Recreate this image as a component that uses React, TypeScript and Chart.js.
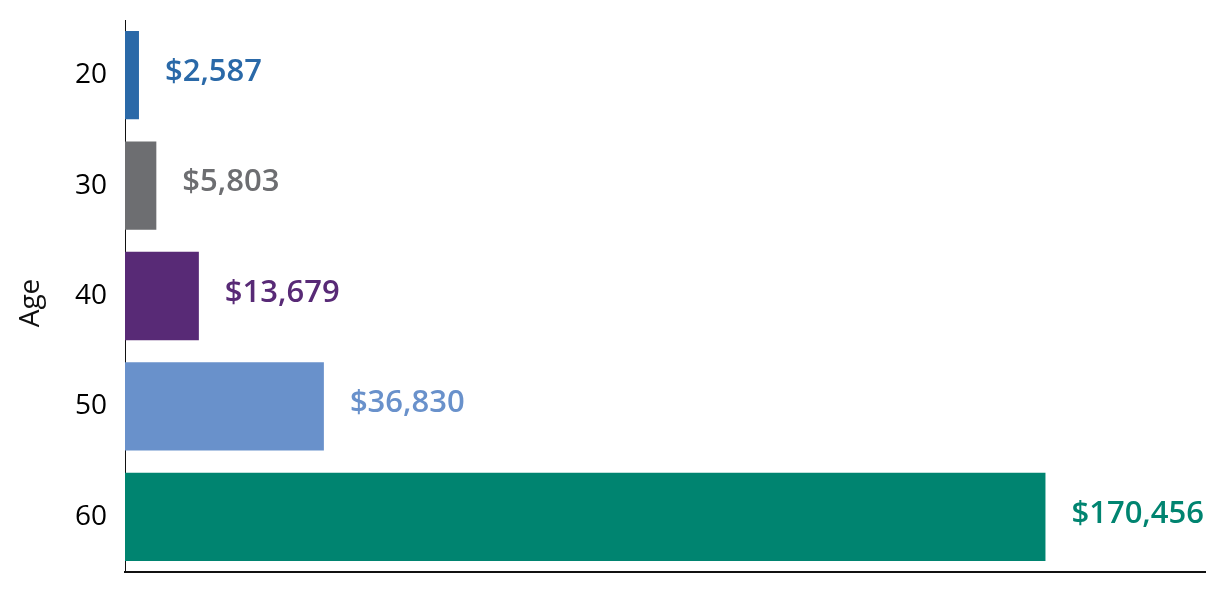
import { useEffect, useRef } from "react";
import Chart from "chart.js/auto";

const ages = ["20", "30", "40", "50", "60"];
const savings = [2587, 5803, 13679, 36830, 170456];
const barColors = ["#2a69a8", "#6d6e71", "#582a76", "#6991cb", "#008470"];
const axisTitle = "Age";

const FONT = "'Open Sans', sans-serif";

const valueLabels = {
  id: "valueLabels",
  afterDatasetsDraw(chart: Chart) {
    const { ctx } = chart;
    const meta = chart.getDatasetMeta(0);
    ctx.save();
    ctx.font = `600 31px ${FONT}`;
    ctx.textAlign = "left";
    ctx.textBaseline = "middle";
    meta.data.forEach((bar: any, i: number) => {
      ctx.fillStyle = barColors[i];
      ctx.fillText("$" + savings[i].toLocaleString("en-US"), bar.x + 26, bar.y - 3);
    });
    ctx.restore();
  },
};

// y-axis title, drawn by hand so it sits where the original has it
const ageTitle = {
  id: "ageTitle",
  afterDraw(chart: Chart) {
    const { ctx, chartArea } = chart;
    ctx.save();
    ctx.translate(31, (chartArea.top + chartArea.bottom) / 2 + 7);
    ctx.rotate(-Math.PI / 2);
    ctx.font = `28px ${FONT}`;
    ctx.fillStyle = "#111";
    ctx.textAlign = "center";
    ctx.textBaseline = "middle";
    ctx.fillText(axisTitle, 0, 0);
    ctx.restore();
  },
};

const App = () => {
  const chartRef = useRef<HTMLCanvasElement>(null);
  const chartInstance = useRef<Chart | null>(null);

  useEffect(() => {
    if (!chartRef.current) return;
    if (chartInstance.current) chartInstance.current.destroy();

    chartInstance.current = new Chart(chartRef.current, {
      type: "bar",
      data: {
        labels: ages,
        datasets: [
          {
            data: savings,
            backgroundColor: barColors,
            borderWidth: 0,
            categoryPercentage: 0.8,
            barPercentage: 1,
          },
        ],
      },
      options: {
        indexAxis: "y",
        animation: false,
        responsive: true,
        maintainAspectRatio: false,
        layout: { padding: { top: 20, right: 22, left: 0, bottom: 0 } },
        plugins: {
          legend: { display: false },
          tooltip: { enabled: false },
        },
        scales: {
          x: {
            min: 0,
            max: 200000,
            grid: { display: false, drawTicks: false },
            border: { display: true, color: "#111", width: 2 },
            ticks: { display: false },
            afterFit: (scale: any) => {
              scale.height = 18;
              scale.paddingLeft = 0;
              scale.paddingRight = 0;
            },
          },
          y: {
            grid: { display: false, drawTicks: false },
            border: { display: true, color: "#111", width: 1 },
            ticks: {
              color: "#000",
              padding: 18,
              font: { family: FONT, size: 28 },
            },
            afterFit: (scale: any) => {
              scale.width = 125;
              scale.paddingTop = 0;
              scale.paddingBottom = 0;
            },
          },
        },
      },
      plugins: [valueLabels, ageTitle],
    });

    return () => {
      if (chartInstance.current) {
        chartInstance.current.destroy();
        chartInstance.current = null;
      }
    };
  }, []);

  return (
    <div style={{ position: "fixed", left: 0, top: 0, width: 1227, height: 590, background: "#fff" }}>
      <canvas ref={chartRef} />
    </div>
  );
};

export default App;
